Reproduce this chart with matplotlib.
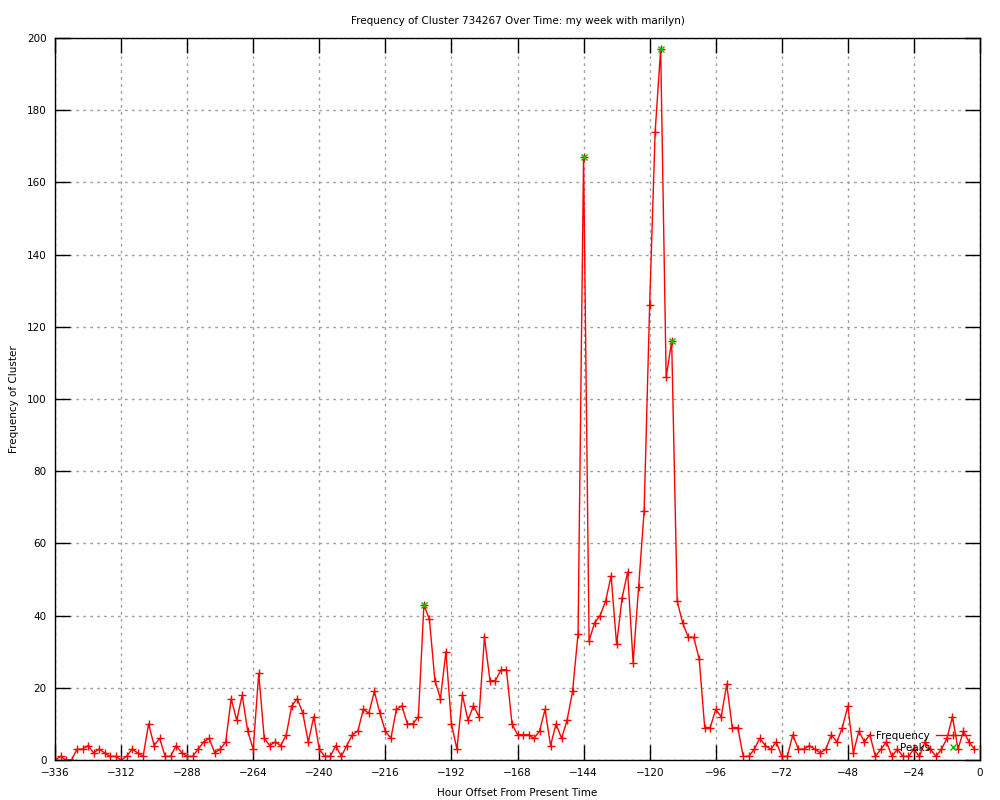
import numpy as np
import matplotlib
matplotlib.use('Agg')
import matplotlib.pyplot as plt

# cluster counts, one every 2 hours from -336 to -2
freq = [0,1,0,0,3,3,4,2,3,2,1,1,0,1,3,2,1,10,4,6,1,1,4,2,1,1,3,5,6,2,
        3,5,17,11,18,8,3,24,6,4,5,4,7,15,17,13,5,12,3,1,1,4,1,4,7,8,14,13,19,13,
        8,6,14,15,10,10,12,43,39,22,17,30,10,3,18,11,15,12,34,22,22,25,25,10,7,7,7,6,8,14,
        4,10,6,11,19,35,167,33,38,40,44,51,32,45,52,27,48,69,126,174,197,106,116,44,38,34,34,28,9,9,
        14,12,21,9,9,1,1,3,6,4,3,5,1,1,7,3,3,4,3,2,3,7,5,9,15,2,8,5,7,1,
        3,5,1,3,1,1,3,1,5,3,1,3,6,12,3,8,5,3]
hours = [-336 + 2*i for i in range(len(freq))]

peak_hours = [-202, -144, -116, -112]
peak_vals = [43, 167, 197, 116]

xticks = list(range(-336, 1, 24))
yticks = list(range(0, 201, 20))

plt.rcParams['font.family'] = 'DejaVu Sans'
plt.rcParams['font.size'] = 7.5

fig = plt.figure(figsize=(10, 8), dpi=100)
ax = fig.add_axes([0.055, 0.05, 0.925, 0.9025])

ax.plot(hours, freq, color='red', lw=1, marker='+', ms=5.5, mew=1, label='Frequency')
ax.plot(peak_hours, peak_vals, ls='none', color='#00c000', marker='x', ms=5, mew=1, label='Peaks')

ax.set_xlim(-336, 0)
ax.set_ylim(0, 200)
ax.set_xticks(xticks)
ax.set_yticks(yticks)
ax.tick_params(direction='in', length=11, width=1, top=True, right=True,
               labeltop=False, labelright=False, pad=6)
ax.grid(True, color='#a0a0a0', ls=(0, (2, 3)), lw=1)
ax.set_axisbelow(True)
for s in ax.spines.values():
    s.set_linewidth(1)

ax.set_title('Frequency of Cluster 734267 Over Time: my week with marilyn)', fontsize=7.5, pad=10)
ax.set_xlabel('Hour Offset From Present Time', labelpad=7)
ax.set_ylabel('Frequency of Cluster', labelpad=6)

ax.legend(loc='lower right', bbox_to_anchor=(0.989, 0.01), frameon=False, markerfirst=False,
          borderaxespad=0, borderpad=0, handlelength=3.2, labelspacing=0.2, handletextpad=0.6)

plt.savefig('out.png')
